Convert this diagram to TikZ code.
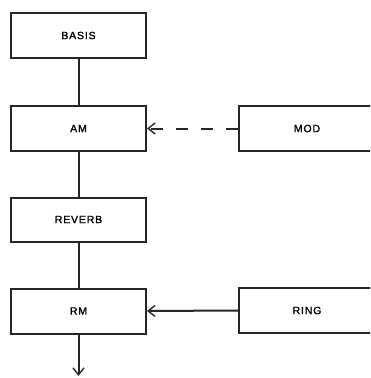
\documentclass[tikz,border=0pt]{standalone}
\usepackage{fontspec}
\setmainfont{Liberation Sans}
\newfontfamily\lab{Liberation Sans}[LetterSpace=8,FakeBold=1.5]
\usetikzlibrary{arrows.meta}
\begin{document}
\begin{tikzpicture}[x=1pt,y=-1pt,
  blk/.style={draw=black!85,line width=2pt,fill=white,minimum height=45pt,inner sep=0pt,
    font=\lab\fontsize{10.5}{11}\selectfont},
  lblk/.style={blk,minimum width=135pt},
  rblk/.style={blk,minimum width=140pt},
  conn/.style={draw=black!85,line width=2pt},
  tip/.style={-{Straight Barb[length=7pt,width=11pt,line width=1.4pt]}}
]
\useasboundingbox (0,0) rectangle (370,378);
\clip (0,0) rectangle (370,378);
\node[lblk] (basis) at (78.5,35.5) {BASIS};
\node[lblk] (am) at (78.5,128.5) {AM};
\node[lblk,minimum height=44pt] (reverb) at (78.5,219.5) {REVERB};
\node[lblk] (rm) at (78.5,311) {RM};
\node[rblk] (mod) at (309,128.5) {\hspace*{-4pt}MOD};
\node[rblk] (ring) at (309,310.5) {\hspace*{-4pt}RING};
\coordinate (out) at (78.5,376);
\draw[conn] (basis) -- (am);
\draw[conn] (am) -- (reverb);
\draw[conn] (reverb) -- (rm);
\draw[conn,tip] (rm) -- (out);
\draw[conn,tip,dash pattern=on 12.5pt off 12.5pt,dash phase=0pt] (mod.west) -- (am.east);
\draw[conn,tip] (ring.west) -- (rm.east);
\end{tikzpicture}
\end{document}
